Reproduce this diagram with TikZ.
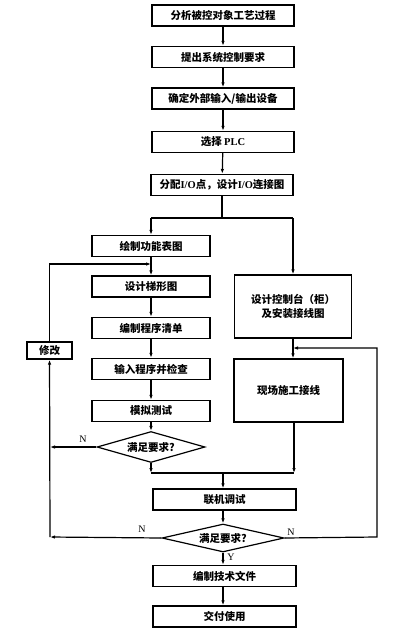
\documentclass[tikz,border=0pt]{standalone}
\usepackage{fontspec}
\setmainfont{Liberation Serif}
\newfontfamily\cjk{Noto Sans CJK SC}
\usetikzlibrary{arrows.meta,shapes.geometric,calc}
\begin{document}
\begin{tikzpicture}[x=1pt,y=-1pt,
  every node/.style={font=\cjk\bfseries\fontsize{10.5}{13.5}\selectfont},
  box/.style={draw,line width=1.3pt,minimum height=21pt,inner sep=0pt,align=center},
  dia/.style={draw,diamond,aspect=4,line width=1.2pt,inner sep=0pt},
  lbl/.style={font=\rmfamily\fontsize{10}{12}\selectfont,inner sep=0pt},
  arr/.style={line width=1.2pt,-{Latex[length=5pt,width=3.5pt]}},
  ln/.style={line width=1.2pt}]
\useasboundingbox (0,0) rectangle (416,632);
% main column
\node[box,minimum width=142pt] (b1) at (223,15.5) {分析被控对象工艺过程};
\node[box,minimum width=142pt] (b2) at (223,57) {提出系统控制要求};
\node[box,minimum width=142pt] (b3) at (223,98.5) {确定外部输入/输出设备};
\node[box,minimum width=142pt] (b4) at (223,142) {选择 {\rmfamily\bfseries PLC}};
\node[box,minimum width=142pt] (b5) at (222,185) {分配{\rmfamily\bfseries I/O}点，设计{\rmfamily\bfseries I/O}连接图};
% left column
\node[box,minimum width=118pt] (l1) at (151,246) {绘制功能表图};
\node[box,minimum width=118pt] (l2) at (151,286.5) {设计梯形图};
\node[box,minimum width=118pt] (l3) at (151,328) {编制程序清单};
\node[box,minimum width=118pt] (l4) at (151,369) {输入程序并检查};
\node[box,minimum width=118pt] (l5) at (151,411) {模拟测试};
\node[dia,minimum width=108pt,minimum height=31pt] (d1) at (151,447) {满足要求?};
\node[box,minimum width=45pt,minimum height=17pt] (g) at (49.5,350.5) {修改};
% right column
\node[box,minimum width=117pt,minimum height=63pt] (r1) at (293,306.5) {设计控制台（柜）\\及安装接线图};
\node[box,minimum width=109pt,minimum height=63pt] (r2) at (288.5,390.5) {现场施工接线};
% lower column
\node[box,minimum width=143pt] (m1) at (224.5,499.5) {联机调试};
\node[dia,minimum width=122pt,minimum height=28pt] (d2) at (223,538) {满足要求?};
\node[box,minimum width=143pt] (t1) at (224.5,576) {编制技术文件};
\node[box,minimum width=143pt] (t2) at (224.5,616.5) {交付使用};
% coordinates
\coordinate (sp) at (222,218);
\coordinate (sl) at (151,218);
\coordinate (sr) at (293,218);
\coordinate (ml) at (151,473);
\coordinate (mr) at (294,473);
\coordinate (mc) at (223,473);
\coordinate (fl) at (151,264);
\coordinate (fr) at (293,348);
\coordinate (cl1) at (50,447);
\coordinate (cl2) at (50,537);
\coordinate (cr) at (377,537);
% connectors
\draw[arr] (b1) -- (b2);
\draw[arr] (b2) -- (b3);
\draw[arr] (b3) -- (b4);
\draw[arr] (b4) -- (b5);
\draw[ln] (b5) -- (sp);
\draw[ln] (sl) -- (sr);
\draw[arr] (sl) -- (l1);
\draw[arr] (sr) -- (r1);
\draw[arr] (l1) -- (l2);
\draw[arr] (l2) -- (l3);
\draw[arr] (l3) -- (l4);
\draw[arr] (l4) -- (l5);
\draw[arr] (l5) -- (d1);
\draw[arr] (d1) -- (ml);
\draw[arr] (r1.south) -- (r1.south |- r2.north);
\draw[arr] (r2.south -| mr) -- (mr);
\draw[ln] (ml) -- (mr);
\draw[arr] (mc) -- (m1.north -| mc);
\draw[arr] (m1.south -| d2.north) -- (d2);
\draw[arr] (d2) -- (t1.north -| d2.south);
\draw[arr] (t1.south -| d2.south) -- (t2.north -| d2.south);
% feedback loops
\draw[arr] (d1.west) -- (cl1);
\draw[arr] (d2.west) -- (cl2);
\draw[arr] (cl2) -- (g);
\draw[arr] (g) |- (fl);
\draw[arr] (d2.east) -- (cr) |- (fr);
% labels
\node[lbl] (n1) at (83,439) {N};
\node[lbl] (n2) at (142,529) {N};
\node[lbl] (n3) at (291,532) {N};
\node[lbl] (y1) at (231,557) {Y};
\end{tikzpicture}
\end{document}
